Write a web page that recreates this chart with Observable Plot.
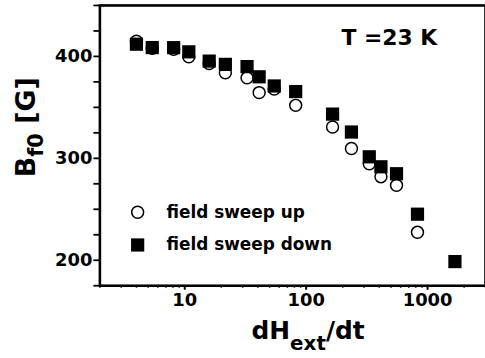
<!DOCTYPE html>
<html>
<head>
<meta charset="utf-8">
<script src="https://cdn.jsdelivr.net/npm/d3@7"></script>
<script src="https://cdn.jsdelivr.net/npm/@observablehq/plot@0.6"></script>
<style>
  html, body { margin: 0; padding: 0; background: #fff; overflow: hidden; }
  #chart { width: 485px; height: 358px; overflow: hidden; }
</style>
</head>
<body>
<div id="chart"></div>
<script>
// Sweep rates dH_ext/dt (shared by both series)
const rates = [4, 5.4, 8.1, 10.8, 15.9, 21.6, 32.6, 41, 54.6, 82, 165, 236, 331, 413, 555, 826, 1680];
// B_f0 [G] for field sweep up (open circles); last rate has no point
const sweepUp = [415, 408, 407, 399.6, 393, 384, 379, 364.5, 368, 352, 330.7, 309.6, 294.6, 282, 273.5, 227.4, null];
// B_f0 [G] for field sweep down (filled squares)
const sweepDown = [412, 408.7, 408.6, 404.5, 395.4, 392.2, 390, 380, 371, 365.5, 343.4, 325.8, 301.5, 291.7, 284.9, 245.2, 198.7];

const xDomain = [2, 3000];
const yDomain = [175, 450];
const xMajorTicks = [10, 100, 1000];
const xMinorTicks = [2,3,4,5,6,7,8,9,20,30,40,50,60,70,80,90,200,300,400,500,600,700,800,900,2000,3000];
const yTicks = [175,200,225,250,275,300,325,350,375,400,425,450];
const yMajorTicks = [200, 300, 400];
const legendLabels = ["field sweep up", "field sweep down"];
const tempLabel = ["T =23 K"];

const upData = rates.map((r, i) => ({r, b: sweepUp[i]})).filter(d => d.b != null);
const downData = rates.map((r, i) => ({r, b: sweepDown[i]}));

const font = "DejaVu Sans";

const chart = Plot.plot({
  width: 488,
  height: 358,
  marginLeft: 100,
  marginRight: 0,
  marginTop: 5,
  marginBottom: 71,
  style: {fontFamily: font, fontWeight: "bold", fontSize: "18px", color: "#000", background: "#fff"},
  x: {type: "log", domain: xDomain, axis: null},
  y: {domain: yDomain, axis: null},
  marks: [
    Plot.axisX({ticks: xMinorTicks, tickSize: 2.5, label: null, tickFormat: () => "", strokeWidth: 1.5}),
    Plot.axisX({ticks: xMajorTicks, tickSize: 4.5, tickPadding: 3, label: null, tickFormat: d => String(d), strokeWidth: 2, fontSize: 18, fontWeight: "bold", fontFamily: font}),
    Plot.axisY({ticks: yTicks, tickSize: 6, tickPadding: 1.5, strokeWidth: 1.8, label: null,
      tickFormat: d => yMajorTicks.includes(d) ? String(d) : "", fontSize: 18, fontWeight: "bold", fontFamily: font}),
    Plot.frame({stroke: "#000", strokeWidth: 2.6}),
    Plot.dot(upData, {x: "r", y: "b", r: 6, stroke: "#000", strokeWidth: 1.5, fill: "#fff"}),
    Plot.dot(downData, {x: "r", y: "b", symbol: "square", r: 7.5, fill: "#000", stroke: "none"}),
    // legend
    Plot.dot([legendLabels[0]], {frameAnchor: "top-left", dx: 38, dy: 208, r: 6, stroke: "#000", strokeWidth: 1.5, fill: "#fff"}),
    Plot.dot([legendLabels[1]], {frameAnchor: "top-left", dx: 38, dy: 241, symbol: "square", r: 7.5, fill: "#000", stroke: "none"}),
    Plot.text([legendLabels[0]], {frameAnchor: "top-left", dx: 67, dy: 208, text: d => d, textAnchor: "start", lineAnchor: "middle", fontSize: 17, fontWeight: "bold", fontFamily: font}),
    Plot.text([legendLabels[1]], {frameAnchor: "top-left", dx: 67, dy: 241, text: d => d, textAnchor: "start", lineAnchor: "middle", fontSize: 17, fontWeight: "bold", fontFamily: font}),
    Plot.text(tempLabel, {frameAnchor: "top-left", dx: 243, dy: 33, text: d => d, textAnchor: "start", lineAnchor: "middle", fontSize: 22, fontWeight: "bold", fontFamily: font})
  ]
});

document.getElementById("chart").appendChild(chart);

// Axis titles with subscripts
const svg = d3.select(chart);
const xt = svg.append("text")
  .attr("x", 310).attr("y", 341)
  .attr("text-anchor", "middle")
  .attr("font-family", font).attr("font-weight", "bold").attr("font-size", 25).attr("fill", "#000");
xt.append("tspan").text("dH");
xt.append("tspan").attr("font-size", 20).attr("dy", 11).text("ext");
xt.append("tspan").attr("dy", -11).text("/dt");

const yt = svg.append("text")
  .attr("transform", "translate(35,128) rotate(-90)")
  .attr("text-anchor", "middle")
  .attr("font-family", font).attr("font-weight", "bold").attr("font-size", 27).attr("fill", "#000");
yt.append("tspan").text("B");
yt.append("tspan").attr("font-size", 21).attr("dy", 8).text("f0");
yt.append("tspan").attr("dy", -8).text(" [G]");
</script>
</body>
</html>
